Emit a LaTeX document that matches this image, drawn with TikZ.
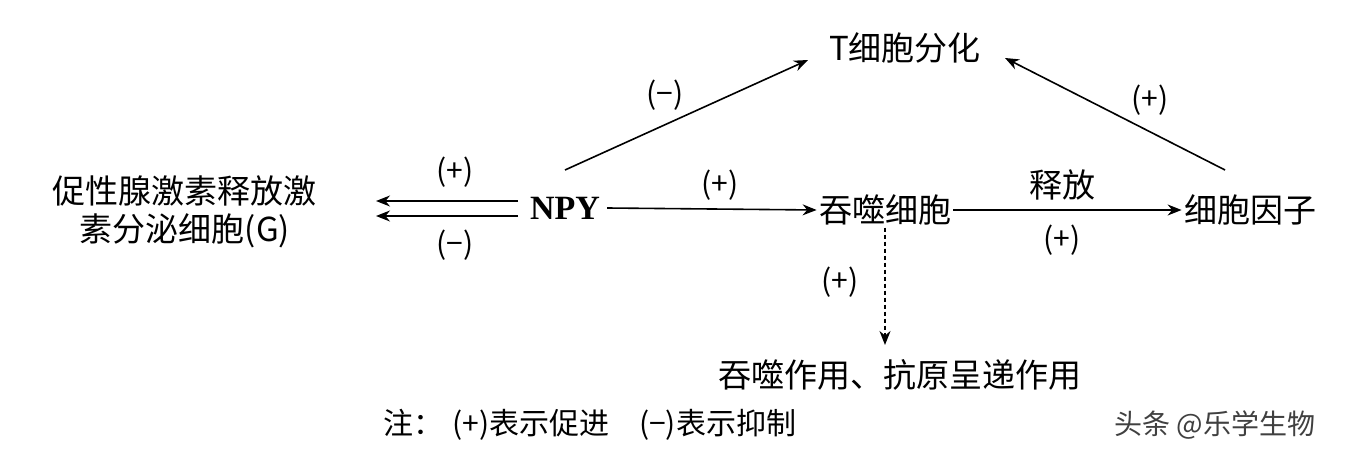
\documentclass[tikz,border=0pt]{standalone}
\usepackage{fontspec}
\setmainfont{Liberation Serif}
\newfontfamily\cjk{Noto Sans CJK SC}
\usetikzlibrary{arrows.meta}
\begin{document}
\begin{tikzpicture}[x=0.5pt,y=-0.5pt,
  lbl/.style={font=\cjk\fontsize{16.5}{19}\selectfont,inner sep=1pt},
  sm/.style={font=\cjk\fontsize{15}{18}\selectfont,inner sep=1pt},
  arr/.style={-{Stealth[length=7pt,width=5.5pt]},line width=0.8pt}]
\useasboundingbox (0,0) rectangle (1350,454);
\node[lbl] (T) at (905,48) {T细胞分化};
\node[lbl,align=center] (G) at (185,212) {促性腺激素释放激\\素分泌细胞(G)};
\node[font=\bfseries\fontsize{17}{19}\selectfont] (N) at (565,208) {NPY};
\node[lbl] (M) at (885,210) {吞噬细胞};
\node[lbl] (C) at (1250,210) {细胞因子};
\node[lbl] (P) at (900,375) {吞噬作用、抗原呈递作用};
\node[sm] (note) at (590,425) {注：\;(+)表示促进\quad (−)表示抑制};
\node[font=\cjk\fontsize{14}{16}\selectfont,text=black!75] (wm) at (1215,425) {头条 @乐学生物};
\coordinate (g1) at (376,201); \coordinate (n1) at (518,201);
\coordinate (g2) at (376,216); \coordinate (n2) at (518,216);
\coordinate (ns) at (565,170); \coordinate (te) at (808,60);
\coordinate (cs) at (1225,170); \coordinate (tr) at (1005,58);
\draw[arr] (n1) -- (g1);
\draw[arr] (n2) -- (g2);
\node[sm] (l1) at (455,172) {(+)};
\node[sm] (l2) at (455,245) {(−)};
\draw[arr] (ns) -- (te);
\node[sm] (l3) at (665,95) {(−)};
\draw[arr] (N.east) -- (M.west);
\node[sm] (l4) at (720,185) {(+)};
\draw[arr] (M.east) -- (C.west);
\node[lbl] (l5) at (1062,185) {释放};
\node[sm] (l6) at (1062,240) {(+)};
\draw[arr] (cs) -- (tr);
\coordinate (pt) at (885,345);
\draw[arr,dash pattern=on 2pt off 1.5pt] (M.south) -- (pt);
\node[sm] (l7) at (840,282) {(+)};
\node[sm] (l8) at (1150,100) {(+)};
\end{tikzpicture}
\end{document}
